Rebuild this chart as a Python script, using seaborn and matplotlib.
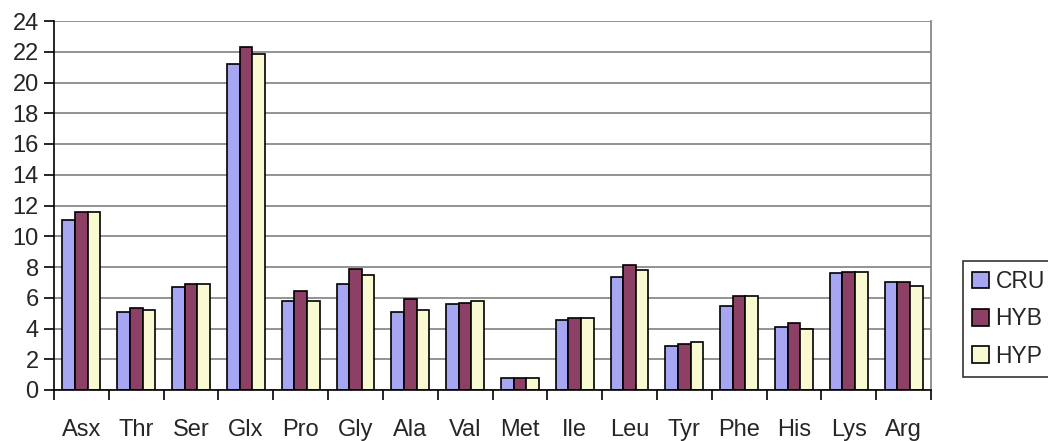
import matplotlib
matplotlib.use("Agg")
import matplotlib.pyplot as plt
import seaborn as sns
import pandas as pd
import numpy as np
from matplotlib.ticker import FixedLocator

categories = ["Asx", "Thr", "Ser", "Glx", "Pro", "Gly", "Ala", "Val",
              "Met", "Ile", "Leu", "Tyr", "Phe", "His", "Lys", "Arg"]
cru = [11.05, 5.09, 6.67, 21.2, 5.78, 6.89, 5.09, 5.57,
       0.76, 4.55, 7.36, 2.86, 5.46, 4.12, 7.58, 7.02]
hyb = [11.6, 5.33, 6.89, 22.3, 6.45, 7.9, 5.89, 5.67,
       0.76, 4.66, 8.12, 2.99, 6.13, 4.33, 7.67, 7.02]
hyp = [11.6, 5.22, 6.89, 21.85, 5.78, 7.45, 5.22, 5.78,
       0.76, 4.66, 7.78, 3.10, 6.13, 3.99, 7.67, 6.78]
series = ["CRU", "HYB", "HYP"]
colors = ["#9999FF", "#993366", "#FFFFCC"]
yticks = list(range(0, 25, 2))

df = pd.DataFrame({
    "cat": categories * 3,
    "val": cru + hyb + hyp,
    "series": [s for s in series for _ in categories],
})

sns.set_style("white")
plt.rcParams["font.family"] = ["Liberation Sans", "DejaVu Sans"]

fig = plt.figure(figsize=(10.48, 4.41), dpi=100)
ax = fig.add_axes([54/1048, 1-390/441, (931-54)/1048, (390-21)/441])

sns.barplot(data=df, x="cat", y="val", hue="series", palette=colors,
            order=categories, hue_order=series, width=0.69, gap=0,
            edgecolor="black", linewidth=1.2, ax=ax, legend=True)

ax.set_xlim(-0.5, len(categories) - 0.5)
ax.set_ylim(0, 24)
ax.set_yticks(yticks)
ax.set_xlabel("")
ax.set_ylabel("")
ax.set_axisbelow(True)
ax.yaxis.grid(True, color="#808080", linewidth=1.2)
ax.xaxis.grid(False)

for s in ["left", "bottom"]:
    ax.spines[s].set_visible(True)
    ax.spines[s].set_color("black")
    ax.spines[s].set_linewidth(1.2)
ax.spines["top"].set_visible(False)
ax.spines["right"].set_visible(True)
ax.spines["right"].set_color("#808080")
ax.spines["right"].set_linewidth(1.2)

ax.tick_params(axis="y", which="major", direction="out", length=7, width=1.2,
               color="black", labelsize=17, pad=4, left=True)
ax.tick_params(axis="x", which="major", length=0, labelsize=17, pad=21)
ax.xaxis.set_minor_locator(FixedLocator(np.arange(-0.5, len(categories), 1.0)))
ax.tick_params(axis="x", which="minor", direction="out", length=7, width=1.2,
               color="black", bottom=True)

handles, labels = ax.get_legend_handles_labels()
ax.legend(handles, labels, loc="upper left",
          bbox_to_anchor=(963/1048, 1-261/441), bbox_transform=fig.transFigure,
          frameon=True, fancybox=False, edgecolor="black", fontsize=16.5,
          handlelength=0.72, handleheight=0.72, handletextpad=0.3,
          labelspacing=0.62, borderpad=0.4, borderaxespad=0)
ax.get_legend().get_frame().set_linewidth(1.2)

fig.savefig("out.png", dpi=100)
